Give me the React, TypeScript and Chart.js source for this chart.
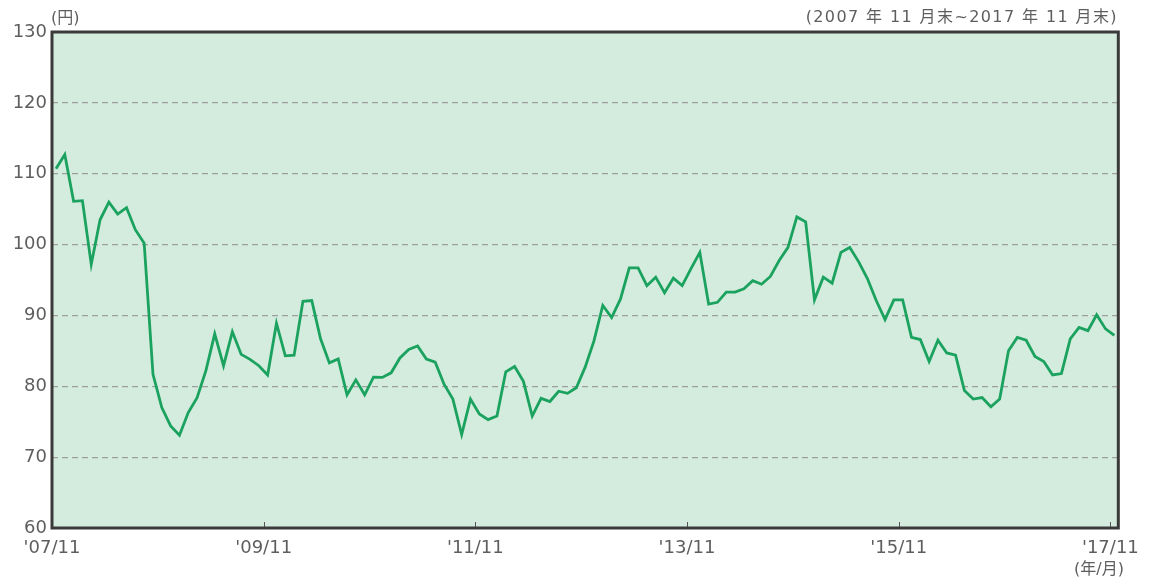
import React, { useEffect, useRef } from "react";
import { Chart, registerables } from "chart.js";
Chart.register(...registerables);

// Monthly-end values, 2007/11 .. 2017/11 (円)
const values: number[] = [
  110.7, 112.7, 106.1, 106.2, 97.2, 103.5, 106.0, 104.3, 105.2, 102.1,
  100.2, 81.7, 77.0, 74.4, 73.1, 76.3, 78.4, 82.2, 87.4, 82.9,
  87.7, 84.5, 83.8, 82.9, 81.6, 88.9, 84.3, 84.4, 92.0, 92.1,
  86.7, 83.3, 83.85, 78.8, 80.9, 78.8, 81.3, 81.25, 81.9, 84.0,
  85.2, 85.7, 83.85, 83.4, 80.3, 78.2, 73.2, 78.2, 76.1, 75.3,
  75.8, 82.05, 82.8, 80.7, 75.8, 78.3, 77.85, 79.3, 79.0, 79.8,
  82.7, 86.4, 91.4, 89.7, 92.3, 96.7, 96.7, 94.2, 95.4, 93.2,
  95.25, 94.2, 96.6, 98.9, 91.6, 91.85, 93.3, 93.3, 93.75, 94.9,
  94.4, 95.5, 97.75, 99.6, 103.9, 103.2, 92.2, 95.4, 94.55, 98.9,
  99.6, 97.6, 95.2, 92.1, 89.4, 92.2, 92.2, 86.9, 86.6, 83.5,
  86.5, 84.7, 84.4, 79.4, 78.2, 78.4, 77.1, 78.2, 85.0, 86.9,
  86.5, 84.2, 83.5, 81.6, 81.8, 86.7, 88.3, 87.85, 90.1, 88.1,
  87.2,
];
const tickMonths: number[] = [0, 24, 48, 72, 96, 120];
const tickLabels: string[] = ["'07/11", "'09/11", "'11/11", "'13/11", "'15/11", "'17/11"];
const yMin = 60;
const yMax = 130;
const yStep = 10;

const BG = "#d3ecde";
const LINE = "#1aa25e";
const TEXT = "#5e5e5e";

export default function App() {
  const ref = useRef<HTMLCanvasElement>(null);
  useEffect(() => {
    document.body.style.margin = "0";
    const canvas = ref.current;
    if (!canvas) return;
    const points = values.map((v, i) => ({ x: i + 0.45, y: v }));
    const framePlugin = {
      id: "frame",
      beforeDraw(chart: any) {
        const { ctx, chartArea: a } = chart;
        ctx.save();
        ctx.fillStyle = BG;
        ctx.fillRect(a.left, a.top, a.right - a.left, a.bottom - a.top);
        ctx.restore();
      },
      afterDraw(chart: any) {
        const { ctx, chartArea: a } = chart;
        const xs = chart.scales.x;
        ctx.save();
        ctx.strokeStyle = "#555";
        ctx.lineWidth = 1;
        tickMonths.slice(1).forEach((m) => {
          const px = Math.round(xs.getPixelForValue(m)) + 0.5;
          ctx.beginPath();
          ctx.moveTo(px, a.bottom);
          ctx.lineTo(px, a.bottom - 6);
          ctx.stroke();
        });
        ctx.strokeStyle = "#3a3a3a";
        ctx.lineWidth = 3;
        ctx.strokeRect(a.left, a.top, a.right - a.left, a.bottom - a.top);
        ctx.restore();
      },
    };
    const chart = new Chart(canvas, {
      type: "line",
      data: {
        datasets: [
          {
            data: points,
            borderColor: LINE,
            borderWidth: 2.8,
            pointRadius: 0,
            tension: 0,
            fill: false,
          },
        ],
      },
      options: {
        animation: false,
        responsive: false,
        layout: { padding: { left: 0, right: 29, top: 32, bottom: 0 } },
        plugins: { legend: { display: false }, tooltip: { enabled: false } },
        scales: {
          x: {
            type: "linear",
            min: 0,
            max: 120.9,
            afterBuildTicks: (scale: any) => {
              scale.ticks = tickMonths.map((v) => ({ value: v }));
            },
            afterFit: (scale: any) => {
              scale.height = 51;
            },
            ticks: {
              autoSkip: false,
              maxRotation: 0,
              padding: 10,
              color: TEXT,
              font: { family: "DejaVu Sans", size: 18 },
              callback: (v: any) => {
                const i = tickMonths.indexOf(Number(v));
                return i >= 0 ? tickLabels[i] : "";
              },
            },
            grid: { display: false, drawTicks: false },
            border: { display: false },
          },
          y: {
            min: yMin,
            max: yMax,
            afterFit: (scale: any) => {
              scale.width = 52;
            },
            ticks: {
              stepSize: yStep,
              padding: 5,
              color: TEXT,
              font: { family: "DejaVu Sans", size: 18 },
            },
            grid: {
              drawTicks: false,
              lineWidth: 1.2,
              color: (c: any) =>
                c.tick && (c.tick.value === yMin || c.tick.value === yMax)
                  ? "rgba(0,0,0,0)"
                  : "#9e9e9e",
            },
            border: { display: false, dash: [6, 4] },
          },
        },
      },
      plugins: [framePlugin],
    });
    return () => chart.destroy();
  }, []);

  const labelFont = "'DejaVu Sans', 'Noto Sans CJK JP', sans-serif";
  return (
    <div style={{ position: "relative", width: 1149, height: 579 }}>
      <canvas ref={ref} width={1149} height={579} style={{ display: "block" }} />
      <div
        style={{
          position: "absolute",
          left: 51,
          top: 8,
          lineHeight: "20px",
          fontSize: 16,
          fontFamily: labelFont,
          color: TEXT,
        }}
      >
        (円)
      </div>
      <div
        style={{
          position: "absolute",
          right: 31,
          top: 7,
          lineHeight: "20px",
          fontSize: 16,
          letterSpacing: "1.4px",
          fontFamily: labelFont,
          color: TEXT,
          whiteSpace: "nowrap",
        }}
      >
        (2007 年 11 月末~2017 年 11 月末)
      </div>
      <div
        style={{
          position: "absolute",
          left: 1066,
          top: 559,
          width: 66,
          textAlign: "center",
          lineHeight: "20px",
          fontSize: 16,
          fontFamily: labelFont,
          color: TEXT,
          whiteSpace: "nowrap",
        }}
      >
        (年/月)
      </div>
    </div>
  );
}
